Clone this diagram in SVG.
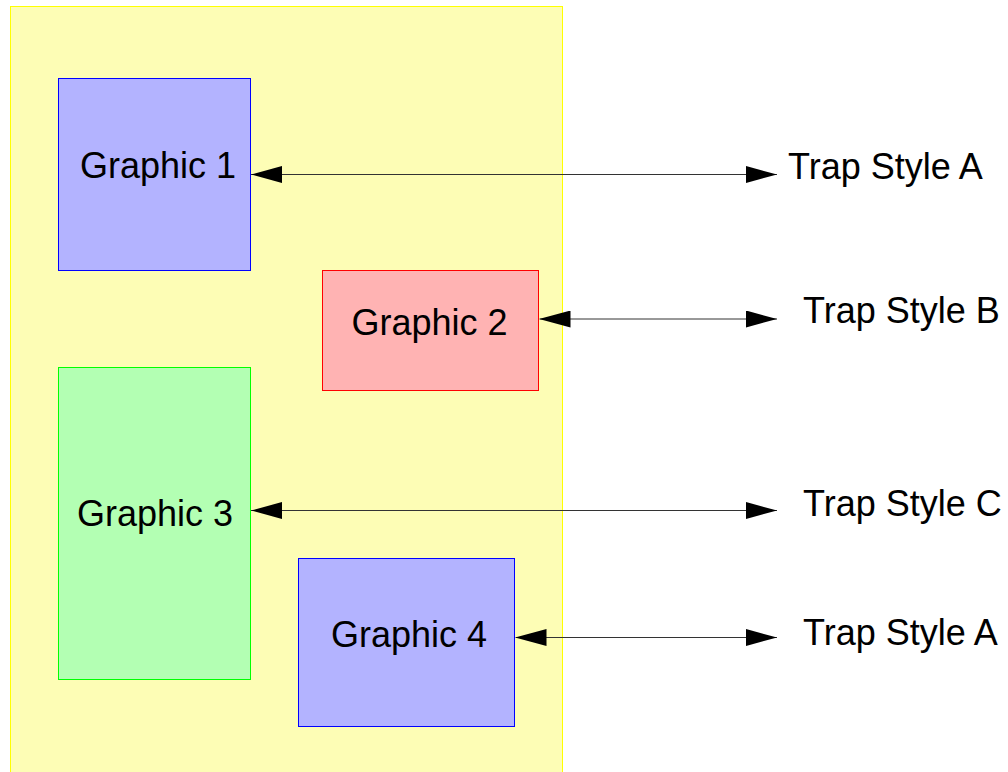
<svg xmlns="http://www.w3.org/2000/svg" width="1008" height="772" viewBox="0 0 1008 772">
<defs>
<style>
text { font-family: "Liberation Sans", Arial, sans-serif; font-size: 36px; fill: #000; }
.conn { stroke: #333; stroke-width: 1; fill: none; marker-start: url(#ah); marker-end: url(#ah); }
.blue { fill: #B3B3FF; stroke: #0000FF; stroke-width: 1; }
.red { fill: #FFB3B3; stroke: #FF0000; stroke-width: 1; }
.green { fill: #B3FFB3; stroke: #00FF00; stroke-width: 1; }
</style>
<marker id="ah" markerUnits="userSpaceOnUse" markerWidth="31" markerHeight="17" viewBox="0 0 31 17" refX="31" refY="8.5" orient="auto-start-reverse">
<path d="M0,0 L31,8.5 L0,17 Z" fill="#000"/>
</marker>
</defs>
<rect width="1008" height="772" fill="#fff"/>
<g id="page">
<rect x="10.5" y="6.5" width="552" height="800" fill="#FDFDB5" stroke="#FFFF00" stroke-width="1"/>
</g>
<g id="graphic1">
<rect class="blue" x="58.5" y="78.5" width="192" height="192"/>
<text x="80" y="178">Graphic 1</text>
</g>
<g id="graphic2">
<rect class="red" x="322.5" y="270.5" width="216" height="120"/>
<text x="351.5" y="335">Graphic 2</text>
</g>
<g id="graphic3">
<rect class="green" x="58.5" y="367.5" width="192" height="312"/>
<text x="77" y="526">Graphic 3</text>
</g>
<g id="graphic4">
<rect class="blue" x="298.5" y="558.5" width="216" height="168"/>
<text x="331" y="647">Graphic 4</text>
</g>
<g id="labels">
<text x="788" y="179">Trap Style A</text>
<text x="803" y="323">Trap Style B</text>
<text x="803" y="515.5">Trap Style C</text>
<text x="803" y="645">Trap Style A</text>
</g>
<g id="connectors">
<line class="conn" x1="251" y1="174.5" x2="777" y2="174.5"/>
<line class="conn" x1="539.5" y1="319" x2="777" y2="319"/>
<line class="conn" x1="251" y1="510.5" x2="777" y2="510.5"/>
<line class="conn" x1="515.5" y1="637.5" x2="777" y2="637.5"/>
</g>
</svg>
